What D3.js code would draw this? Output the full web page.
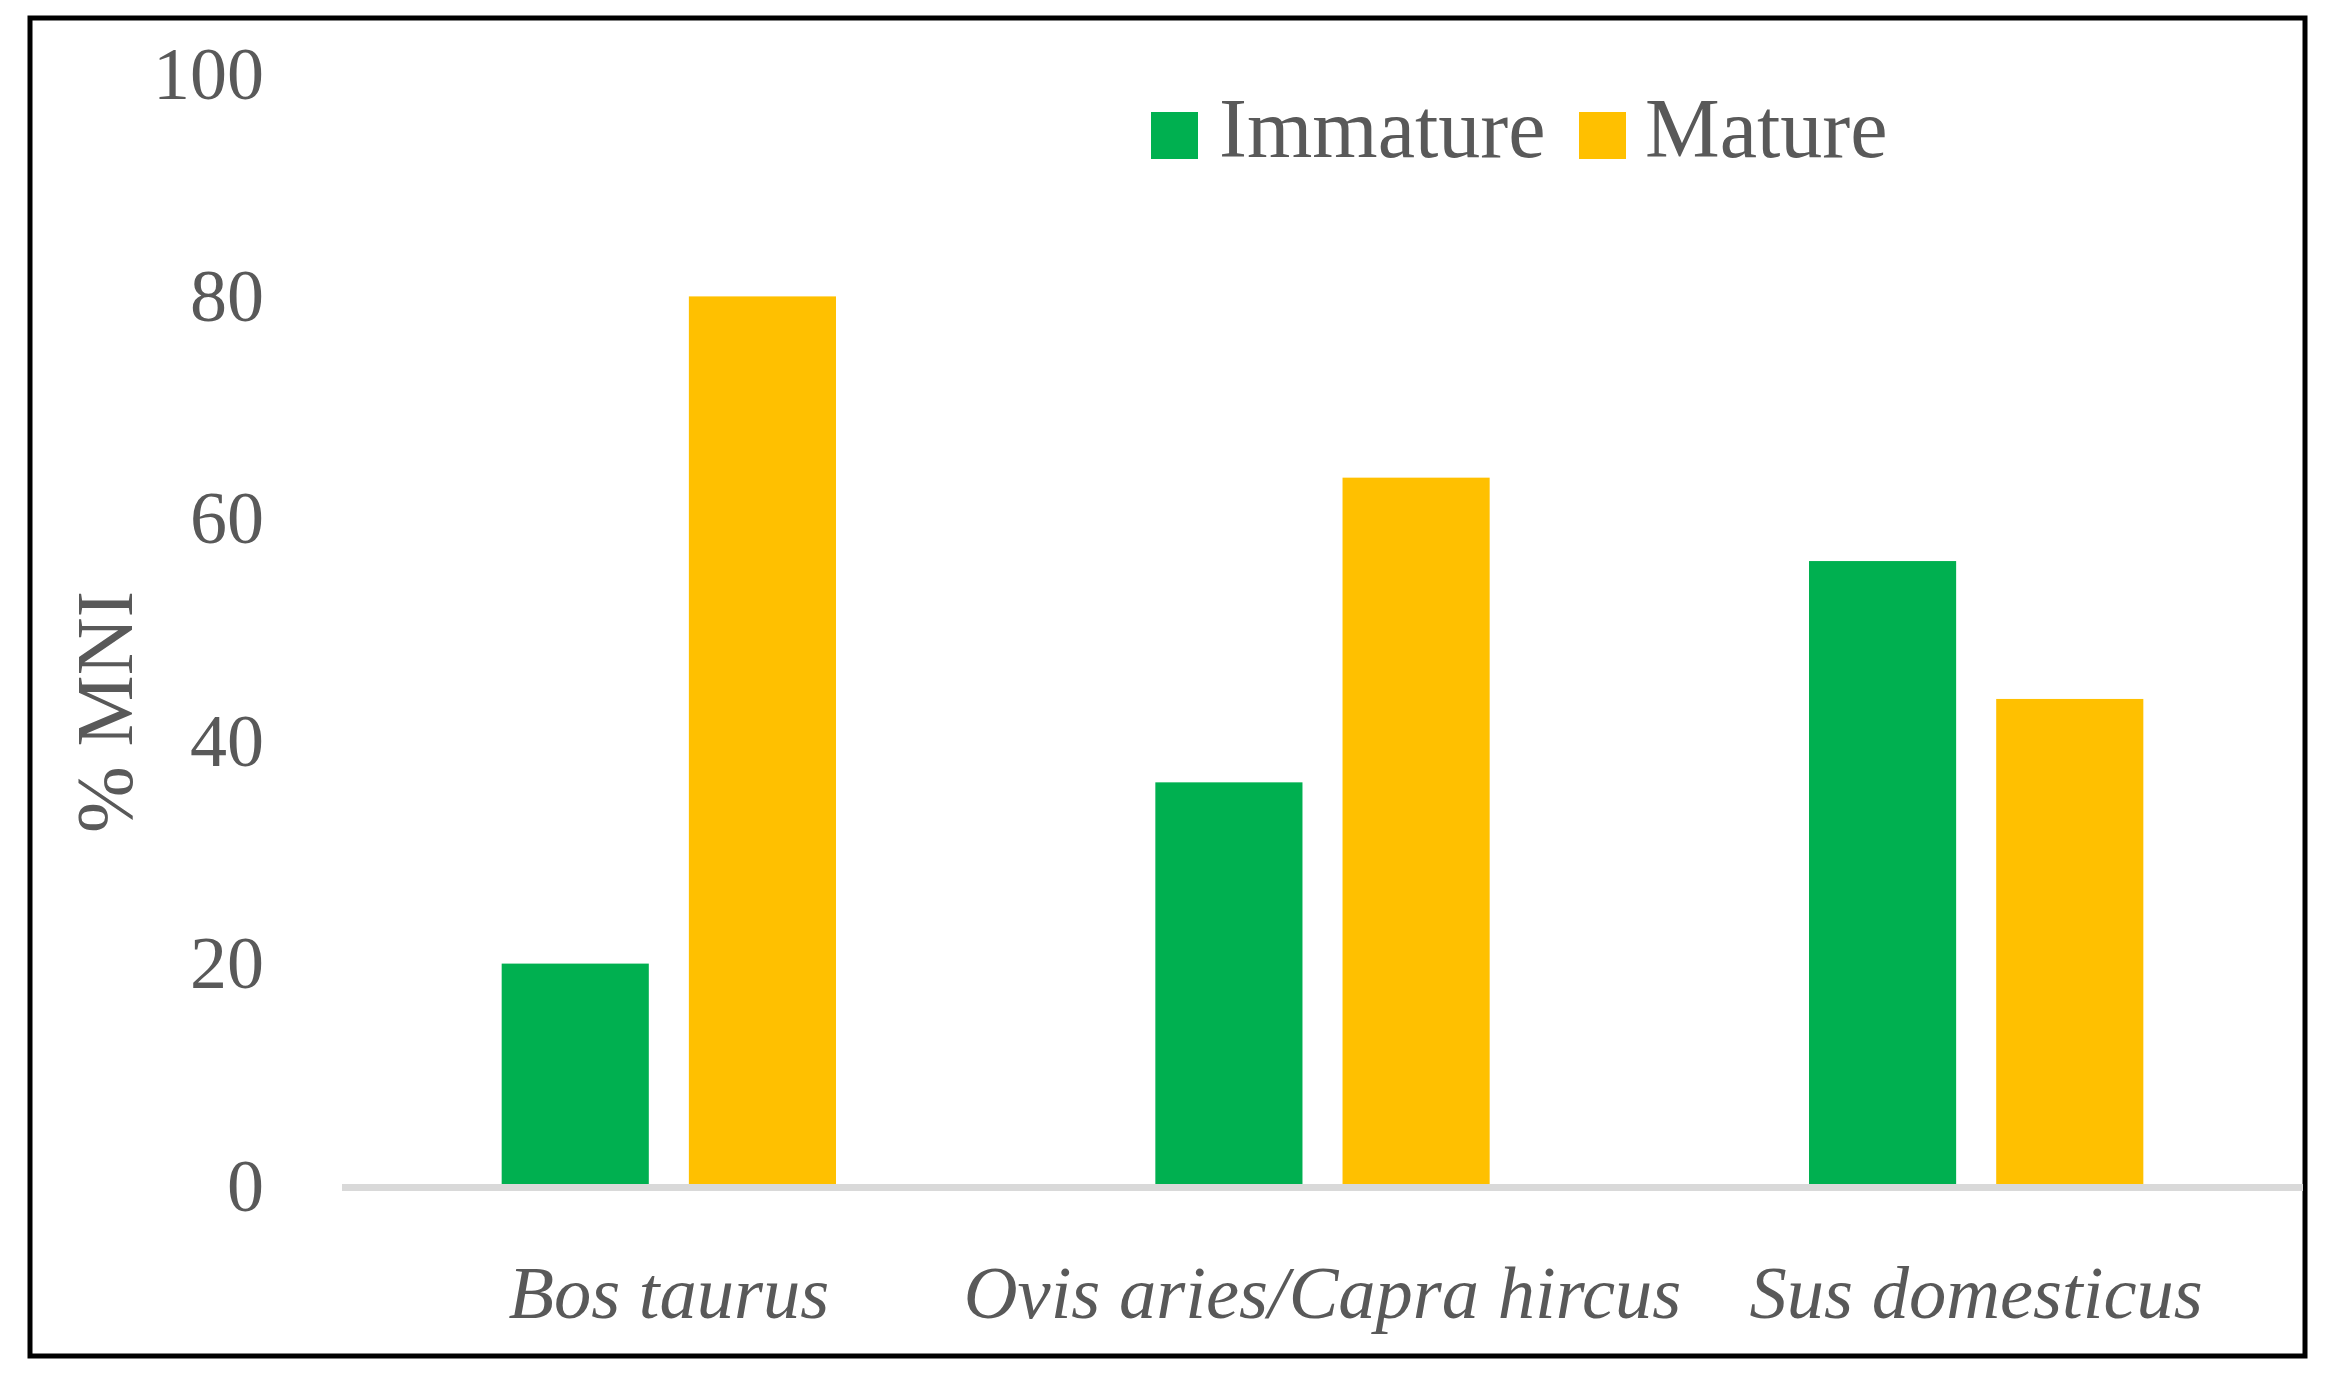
<!DOCTYPE html>
<html>
<head>
<meta charset="utf-8">
<script src="https://cdn.jsdelivr.net/npm/d3@7"></script>
<style>
  html, body { margin: 0; padding: 0; background: #ffffff; }
  svg { display: block; }
</style>
</head>
<body>
<script>
// ---- Data ----
const categories = ["Bos taurus", "Ovis aries/Capra hircus", "Sus domesticus"];
const seriesNames = ["Immature", "Mature"];
const immatureValues = [20, 36.3, 56.2];
const matureValues = [80, 63.7, 43.8];
const yTicks = [0, 20, 40, 60, 80, 100];
const yTitle = "% MNI";

// ---- Layout ----
const W = 2335, H = 1384;
const colors = { Immature: "#00B050", Mature: "#FFC000" };
const textColor = "#595959";
const serif = "'Liberation Serif', 'Times New Roman', serif";

const svg = d3.select("body").append("svg")
  .attr("width", W).attr("height", H);

svg.append("rect").attr("width", W).attr("height", H).attr("fill", "#fff");

// frame
svg.append("rect")
  .attr("x", 30).attr("y", 18)
  .attr("width", 2275).attr("height", 1338)
  .attr("fill", "none").attr("stroke", "#000").attr("stroke-width", 5);

const plotLeft = 342, plotRight = 2303;
const y = d3.scaleLinear().domain([0, 100]).range([1186, 74]);
const x0 = d3.scaleBand().domain(categories).range([plotLeft, plotRight]).padding(0);
const x1 = d3.scaleBand().domain(seriesNames).range([0, x0.bandwidth()])
  .paddingInner(0.214).paddingOuter(0.853);

const data = categories.map((c, i) => ({
  category: c,
  values: [
    { key: "Immature", value: immatureValues[i] },
    { key: "Mature", value: matureValues[i] }
  ]
}));

// bars
const groups = svg.append("g").selectAll("g").data(data).join("g")
  .attr("transform", d => `translate(${x0(d.category)},0)`);
groups.selectAll("rect").data(d => d.values).join("rect")
  .attr("x", d => x1(d.key))
  .attr("width", x1.bandwidth())
  .attr("y", d => y(d.value))
  .attr("height", d => y(0) - y(d.value))
  .attr("fill", d => colors[d.key]);

// x axis baseline
svg.append("line")
  .attr("x1", plotLeft).attr("x2", plotRight)
  .attr("y1", y(0) + 1.5).attr("y2", y(0) + 1.5)
  .attr("stroke", "#D9D9D9").attr("stroke-width", 7);

// y tick labels
const yAxis = d3.axisLeft(y).tickValues(yTicks).tickSize(0).tickPadding(0);
const yg = svg.append("g").attr("transform", "translate(264,0)").call(yAxis);
yg.select(".domain").remove();
yg.selectAll("text")
  .attr("x", 0).attr("dy", null).attr("y", 24)
  .attr("text-anchor", "end")
  .style("font-family", serif).style("font-size", "74px")
  .attr("fill", textColor);

// x category labels
const xAxis = d3.axisBottom(x0).tickSize(0).tickPadding(0);
const xg = svg.append("g").attr("transform", "translate(0,1318)").call(xAxis);
xg.select(".domain").remove();
xg.selectAll("text")
  .attr("y", 0).attr("dy", null)
  .style("font-family", serif).style("font-size", "74.5px").style("font-style", "italic")
  .attr("fill", textColor);

// y axis title
svg.append("text")
  .attr("transform", "translate(132,712) rotate(-90)")
  .attr("text-anchor", "middle")
  .style("font-family", serif).style("font-size", "80px")
  .attr("fill", textColor)
  .text(yTitle);

// legend
const legendItems = [
  { key: "Immature", sx: 1151, tx: 1219 },
  { key: "Mature", sx: 1579, tx: 1645 }
];
const lg = svg.append("g");
legendItems.forEach(it => {
  lg.append("rect").attr("x", it.sx).attr("y", 112).attr("width", 47).attr("height", 47)
    .attr("fill", colors[it.key]);
  lg.append("text").attr("x", it.tx).attr("y", 157)
    .style("font-family", serif).style("font-size", "84px")
    .attr("fill", textColor).text(it.key);
});
</script>
</body>
</html>
